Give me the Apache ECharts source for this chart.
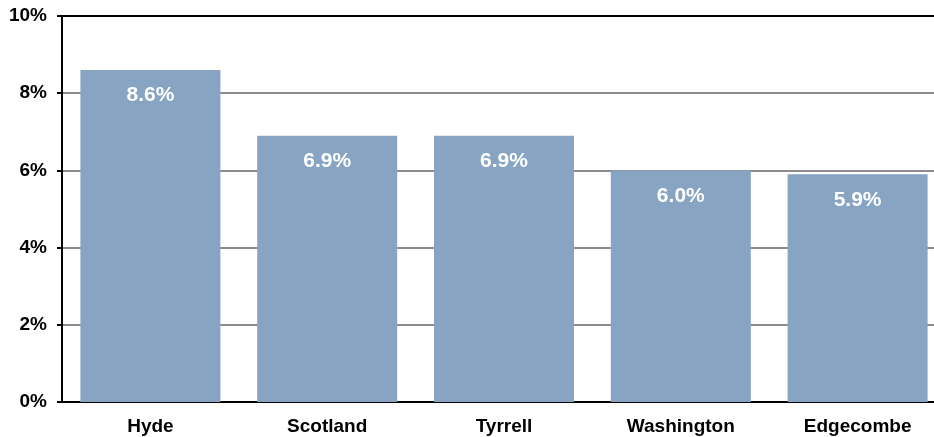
<!DOCTYPE html>
<html>
<head>
<meta charset="utf-8">
<script src="https://cdn.jsdelivr.net/npm/echarts@6/dist/echarts.min.js"></script>
<style>html,body{margin:0;padding:0;background:#fff;overflow:hidden;width:934px;height:437px}#c{width:946px;height:437px}</style>
</head>
<body>
<div id="c"></div>
<script>
var categories = ['Hyde', 'Scotland', 'Tyrrell', 'Washington', 'Edgecombe'];
var values = [8.6, 6.9, 6.9, 6.0, 5.9];
var yTicks = [0, 2, 4, 6, 8, 10];

var chart = echarts.init(document.getElementById('c'), null, {renderer: 'canvas'});
chart.setOption({
  animation: false,
  grid: {left: 62, right: 0, top: 16, bottom: 35, containLabel: false},
  xAxis: {
    type: 'category',
    data: categories,
    axisLine: {show: true, lineStyle: {color: '#000', width: 2}},
    axisTick: {show: false},
    axisLabel: {color: '#000', fontFamily: 'Liberation Sans, Arial', fontWeight: 'bold', fontSize: 19, margin: 15}
  },
  yAxis: {
    type: 'value',
    min: yTicks[0],
    max: yTicks[yTicks.length - 1],
    interval: 2,
    axisLine: {show: true, lineStyle: {color: '#000', width: 2}},
    axisTick: {show: true, length: 5, lineStyle: {color: '#000', width: 2}},
    axisLabel: {color: '#000', fontFamily: 'Liberation Sans, Arial', fontWeight: 'bold', fontSize: 19, margin: 15,
      padding: [4, 0, 0, 0],
      formatter: function (v) { return v + '%'; }},
    splitLine: {show: true, lineStyle: {color: ['#000', '#8c8c8c', '#8c8c8c', '#8c8c8c', '#8c8c8c', '#000'], width: 2}}
  },
  series: [{
    type: 'bar',
    data: values,
    barWidth: 140,
    itemStyle: {color: '#87A5C2'},
    label: {
      show: true,
      position: 'insideTop',
      distance: 15,
      color: '#fff',
      fontFamily: 'Liberation Sans, Arial',
      fontWeight: 'bold',
      fontSize: 21,
      formatter: function (p) { return p.value.toFixed(1) + '%'; }
    }
  }]
});
</script>
</body>
</html>
